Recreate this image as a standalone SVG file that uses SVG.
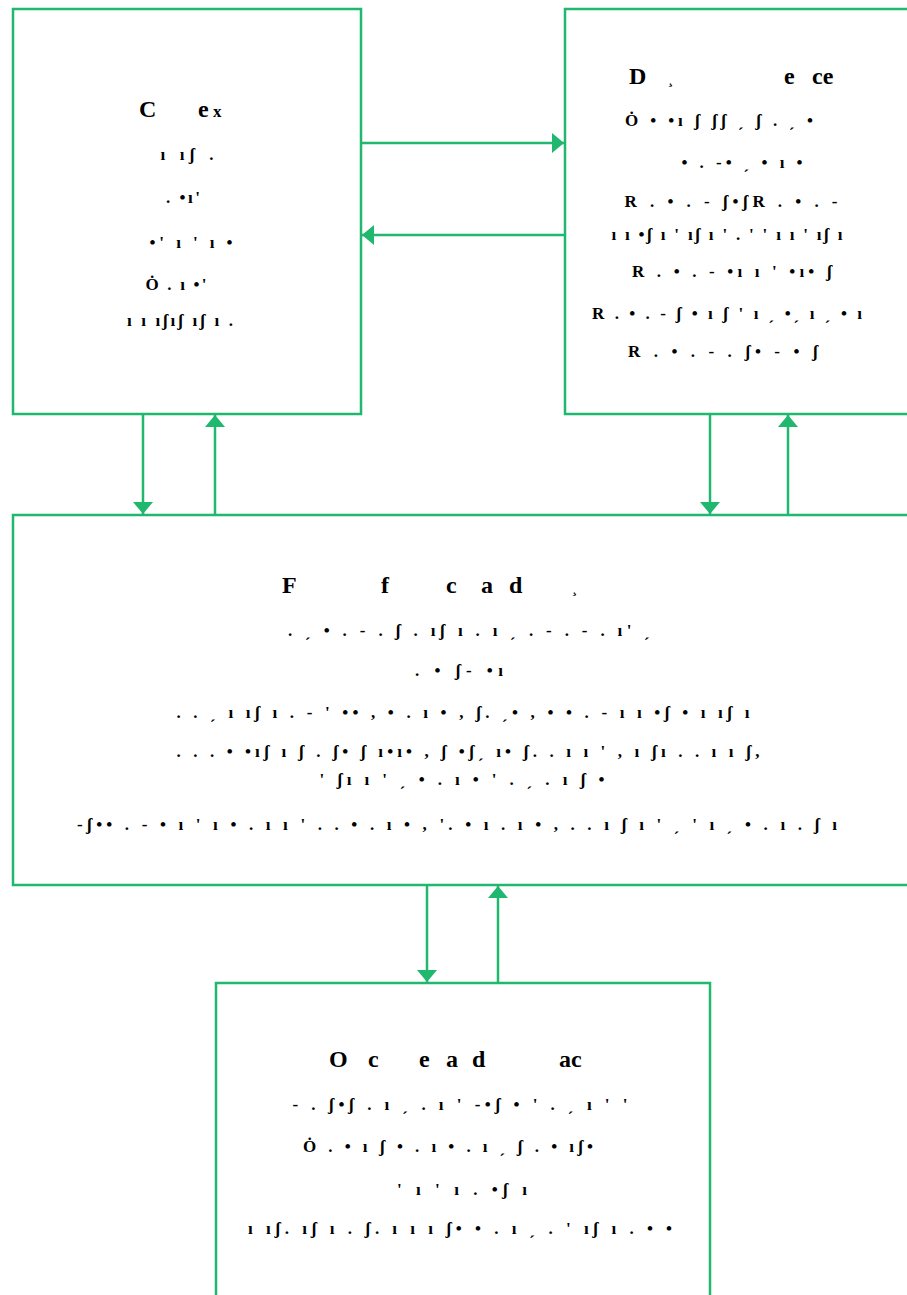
<svg xmlns="http://www.w3.org/2000/svg" width="907" height="1295" viewBox="0 0 907 1295">
  <style>
    .box { fill: #ffffff; stroke: #1fb86e; stroke-width: 2.5; }
    .link { stroke: #1fb86e; stroke-width: 2.5; fill: none; }
    .title { font-family: "Liberation Serif", serif; font-weight: bold; font-size: 24px; fill: #000; }
    .body { font-family: "Liberation Serif", "DejaVu Serif", serif; font-weight: bold; font-size: 17px; fill: #000; text-anchor: middle; }
  </style>
  <defs>
    <marker id="head" markerUnits="userSpaceOnUse" markerWidth="12" markerHeight="20" refX="12" refY="10" orient="auto">
      <path d="M0,0 L12,10 L0,20 z" fill="#1fb86e"/>
    </marker>
  </defs>
  <rect width="907" height="1295" fill="#ffffff"/>

  <!-- top-left node -->
  <g id="node-context">
    <rect class="box" x="13" y="9" width="348" height="405"/>
    <text class="title" y="117"><tspan x="139">C</tspan><tspan x="198">e</tspan><tspan x="213" font-size="17">x</tspan></text>
    <text class="body" x="187" y="160" textLength="53" lengthAdjust="spacing">ı    ıʃ   .</text>
    <text class="body" x="183" y="203" textLength="34" lengthAdjust="spacing">.  •ı'</text>
    <text class="body" x="191" y="248" textLength="83" lengthAdjust="spacing">•'  ı  '      ı •</text>
    <text class="body" x="176" y="290" textLength="61" lengthAdjust="spacing">Ȯ   .  ı •'</text>
    <text class="body" x="180" y="326" textLength="106" lengthAdjust="spacing">ı ı   ıʃıʃ ıʃ  ı  .</text>
  </g>

  <!-- top-right node -->
  <g id="node-d">
    <rect class="box" x="565" y="9" width="360" height="405"/>
    <text class="title" y="84"><tspan x="629">D</tspan><tspan x="668" font-size="15">¸</tspan><tspan x="784">e</tspan><tspan x="812">ce</tspan></text>
    <text class="body" x="719" y="126" textLength="188" lengthAdjust="spacing">Ȯ  •  •ı ʃ ʃʃ ˏ  ʃ . ˏ  •</text>
    <text class="body" x="742" y="168" textLength="121" lengthAdjust="spacing">•  .  -•   ˏ •  ı  •</text>
    <text class="body" x="731" y="207" textLength="213" lengthAdjust="spacing">R   .  •  .  -   ʃ•ʃR  .  •  .  -</text>
    <text class="body" x="727" y="240" textLength="231" lengthAdjust="spacing">ı ı •ʃ ı '  ıʃ ı '   .    ' ' ı ı '  ıʃ ı</text>
    <text class="body" x="732" y="277" textLength="200" lengthAdjust="spacing">R  .  •  .  -  •ı  ı    '  •ı•  ʃ</text>
    <text class="body" x="727" y="319" textLength="270" lengthAdjust="spacing">R   .  •   .  -  ʃ  •  ı   ʃ ' ı ˏ   •ˏ ı ˏ    •  ı</text>
    <text class="body" x="723" y="357" textLength="190" lengthAdjust="spacing">R  .  •  .  -  .   ʃ•   -  •  ʃ</text>
  </g>

  <!-- middle node -->
  <g id="node-f">
    <rect class="box" x="13" y="515" width="910" height="370"/>
    <text class="title" y="593"><tspan x="282">F</tspan><tspan x="381">f</tspan><tspan x="446">c</tspan><tspan x="481">a</tspan><tspan x="509">d</tspan><tspan x="572" font-size="15">¸</tspan></text>
    <text class="body" x="469" y="636" textLength="362" lengthAdjust="spacing">. ˏ •  .  - .  ʃ  .  ıʃ ı  . ı ˏ   .  -  .  -  .  ı'  ˏ</text>
    <text class="body" x="459" y="676" textLength="88" lengthAdjust="spacing">.  •  ʃ-  •ı</text>
    <text class="body" x="463" y="718" textLength="573" lengthAdjust="spacing">. . ˏ ı ıʃ ı   . - ' ••  , •  . ı  •  , ʃ.  ˏ•   , •  •   . - ı ı •ʃ  •  ı  ıʃ ı</text>
    <text class="body" x="468" y="757" textLength="583" lengthAdjust="spacing">. . . •  •ıʃ ı    ʃ .  ʃ•   ʃ  ı•ı•  ,  ʃ  •ʃˏ ı• ʃ. . ı ı ' ,  ı   ʃı . . ı ı ʃ,</text>
    <text class="body" x="462" y="785" textLength="285" lengthAdjust="spacing">' ʃı ı '  ˏ  •  . ı  •   ' . ˏ  . ı  ʃ  •</text>
    <text class="body" x="457" y="830" textLength="760" lengthAdjust="spacing">-ʃ•• . - •  ı ' ı •  . ı  ı ' .     .  •  . ı  • ,  '. •   ı . ı •  ,    . . ı ʃ ı ' ˏ ' ı ˏ  •   . ı . ʃ ı</text>
  </g>

  <!-- bottom node -->
  <g id="node-o">
    <rect class="box" x="216" y="983" width="494" height="330"/>
    <text class="title" y="1067"><tspan x="329">O</tspan><tspan x="368">c</tspan><tspan x="419">e</tspan><tspan x="446">a</tspan><tspan x="472">d</tspan><tspan x="559">ac</tspan></text>
    <text class="body" x="460" y="1110" textLength="335" lengthAdjust="spacing">- .   ʃ•ʃ     . ı ˏ    . ı ' -•ʃ     •  ' . ˏ  ı '  '</text>
    <text class="body" x="448" y="1152" textLength="290" lengthAdjust="spacing">Ȯ  . •  ı   ʃ  •  . ı  •     . ı ˏ    ʃ .  • ıʃ•</text>
    <text class="body" x="462" y="1195" textLength="130" lengthAdjust="spacing">'     ı '   ı  . •ʃ ı</text>
    <text class="body" x="460" y="1234" textLength="424" lengthAdjust="spacing">ı ıʃ. ıʃ ı  . ʃ.      ı  ı ı ʃ•  •   . ı ˏ  . ' ıʃ ı .  •  •</text>
  </g>

  <!-- connectors -->
  <g id="connectors">
    <line class="link" x1="361" y1="143" x2="564" y2="143" marker-end="url(#head)"/>
    <line class="link" x1="565" y1="235" x2="362" y2="235" marker-end="url(#head)"/>
    <line class="link" x1="143" y1="414" x2="143" y2="514" marker-end="url(#head)"/>
    <line class="link" x1="215" y1="515" x2="215" y2="415" marker-end="url(#head)"/>
    <line class="link" x1="710" y1="414" x2="710" y2="514" marker-end="url(#head)"/>
    <line class="link" x1="788" y1="515" x2="788" y2="415" marker-end="url(#head)"/>
    <line class="link" x1="427" y1="885" x2="427" y2="982" marker-end="url(#head)"/>
    <line class="link" x1="498" y1="983" x2="498" y2="886" marker-end="url(#head)"/>
  </g>
</svg>
